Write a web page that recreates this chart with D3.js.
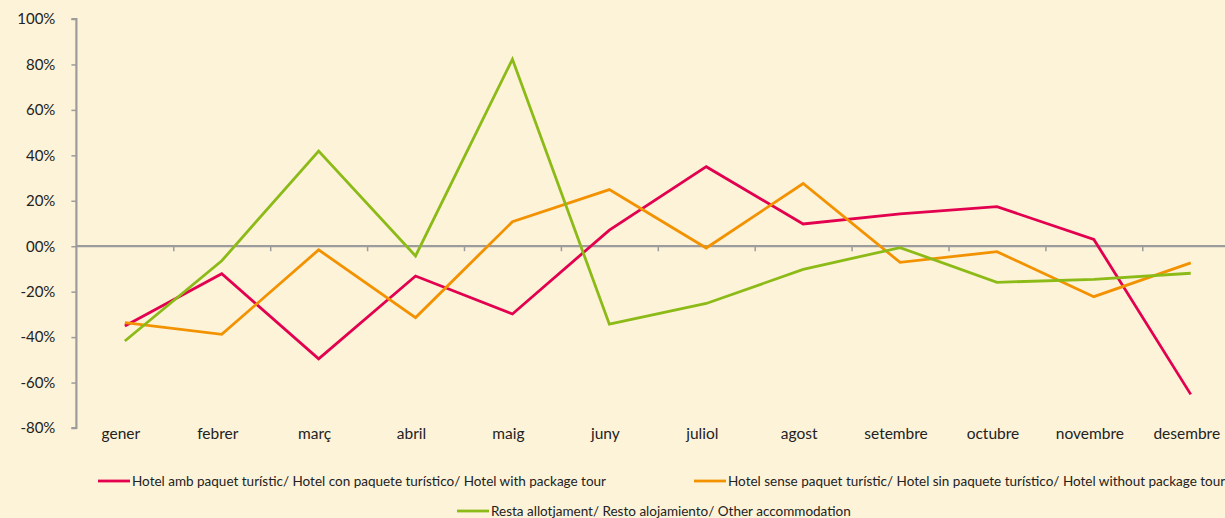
<!DOCTYPE html>
<html>
<head>
<meta charset="utf-8">
<script src="https://cdn.jsdelivr.net/npm/d3@7"></script>
<style>
  body { margin: 0; background: #fdf3d9; }
  svg { display: block; font-family: Lato, "Open Sans", sans-serif; }
</style>
</head>
<body>
<div id="wrapper"></div>
<script>
// Data
const months = ['gener', 'febrer', 'març', 'abril', 'maig', 'juny', 'juliol', 'agost', 'setembre', 'octubre', 'novembre', 'desembre']
const hotelPackage = [-35.1, -12.1, -49.6, -13.1, -29.8, 7.1, 35.0, 9.8, 14.2, 17.4, 3.0, -65.2]
const hotelNoPackage = [-33.6, -38.8, -1.6, -31.4, 10.8, 24.9, -0.8, 27.6, -7.1, -2.4, -22.2, -7.3]
const otherAccommodation = [-41.7, -6.4, 41.9, -4.3, 82.3, -34.3, -25.2, -10.2, -0.6, -15.9, -14.6, -11.9]
const yTicks = [100, 80, 60, 40, 20, 0, -20, -40, -60, -80]
const yTickLabels = ['100%', '80%', '60%', '40%', '20%', '00%', '-20%', '-40%', '-60%', '-80%']
const seriesNames = [
  'Hotel amb paquet turístic/ Hotel con paquete turístico/ Hotel with package tour',
  'Hotel sense paquet turístic/ Hotel sin paquete turístico/ Hotel without package tour',
  'Resta allotjament/ Resto alojamiento/ Other accommodation'
]
const seriesColors = ['#e2004f', '#f39200', '#8cba17']

const series = [hotelPackage, hotelNoPackage, otherAccommodation].map((values, i) => ({
  name: seriesNames[i],
  color: seriesColors[i],
  values: values
}))

const dimensions = {
  width: 1225,
  height: 518,
  left: 76.4,
  top: 19,
  bandWidth: 96.9,
  plotBottom: 428
}

const wrapper = d3.select('#wrapper').append('svg')
  .attr('width', dimensions.width)
  .attr('height', dimensions.height)

wrapper.append('rect')
  .attr('width', dimensions.width)
  .attr('height', dimensions.height)
  .attr('fill', '#fdf3d9')

// Scales
const xScale = d3.scaleBand()
  .domain(months)
  .range([dimensions.left, dimensions.left + months.length * dimensions.bandWidth])

const xEdge = d3.scaleLinear()
  .domain([0, months.length])
  .range(xScale.range())

const yScale = d3.scaleLinear()
  .domain([-80, 100])
  .range([dimensions.plotBottom, dimensions.top])

const axisColor = '#9c9c9c'

// Y axis
const yAxis = wrapper.append('g')
  .attr('transform', `translate(${dimensions.left},0)`)
  .call(d3.axisLeft(yScale).tickValues(yTicks).tickSize(5).tickPadding(16)
    .tickFormat((d, i) => yTickLabels[i]))

yAxis.select('.domain').attr('stroke', axisColor).attr('stroke-width', 2.2)
  .attr('d', `M-5,${yScale(100)}H0V${yScale(-80)}H-5`)
yAxis.selectAll('.tick line').attr('stroke', axisColor).attr('stroke-width', 1.5)
yAxis.selectAll('.tick text')
  .attr('fill', '#222')
  .style('font-size', '15px')
  .style('font-family', 'Lato, sans-serif')

// X axis at zero
const xAxis = wrapper.append('g')
  .attr('transform', `translate(0,${yScale(0)})`)
  .call(d3.axisBottom(xEdge).tickValues(d3.range(1, months.length)).tickSize(5).tickFormat(''))

xAxis.select('.domain').attr('stroke', axisColor).attr('stroke-width', 2.2)
  .attr('d', `M${dimensions.left},0H${dimensions.width}`)
xAxis.selectAll('.tick line').attr('stroke', axisColor).attr('stroke-width', 1.5)

// month labels
wrapper.append('g').selectAll('text')
  .data(months)
  .enter().append('text')
  .attr('x', d => xScale(d) + xScale.bandwidth() / 2 - 4)
  .attr('y', 439)
  .attr('text-anchor', 'middle')
  .attr('fill', '#222')
  .style('font-size', '15.5px')
  .text(d => d)

// Lines
const lineGenerator = d3.line()
  .x((d, i) => xScale(months[i]) + xScale.bandwidth() / 2)
  .y(d => yScale(d))

wrapper.append('g').selectAll('path')
  .data(series)
  .enter().append('path')
  .attr('d', d => lineGenerator(d.values))
  .attr('fill', 'none')
  .attr('stroke', d => d.color)
  .attr('stroke-width', 2.8)
  .attr('stroke-linejoin', 'miter')

// Legend
const legendPos = [
  { x: 98, y: 481 },
  { x: 694, y: 481 },
  { x: 457, y: 511 }
]

const legend = wrapper.append('g').selectAll('g')
  .data(series)
  .enter().append('g')
  .attr('transform', (d, i) => `translate(${legendPos[i].x},${legendPos[i].y})`)

legend.append('line')
  .attr('x1', 0).attr('x2', 32)
  .attr('stroke', d => d.color)
  .attr('stroke-width', 2.8)

legend.append('text')
  .attr('x', 34)
  .attr('y', 4.5)
  .attr('fill', '#222')
  .style('font-size', '13.5px')
  .text(d => d.name)
</script>
</body>
</html>
